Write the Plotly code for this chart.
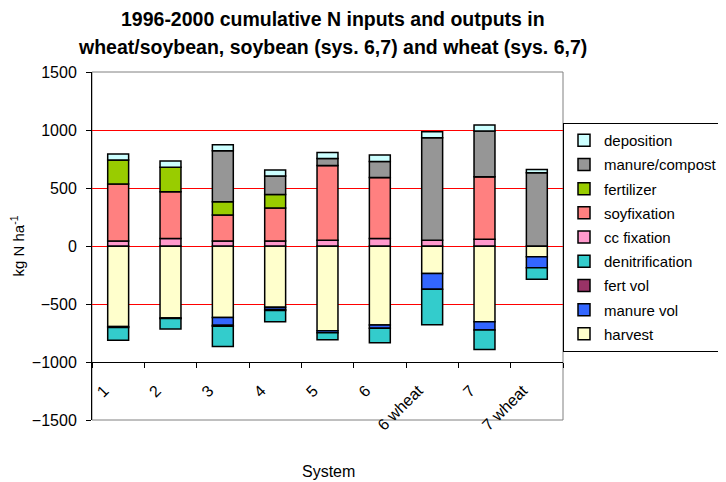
import plotly.graph_objects as go

systems = ["1", "2", "3", "4", "5", "6", "6 wheat", "7", "7 wheat"]

# outputs (negative), stacked downward from zero in this order
harvest = [-695, -620, -617, -528, -730, -681, -236, -652, -92]
manure_vol = [0, 0, -67, -20, -17, -29, -136, -72, -95]
fert_vol = [-8, -6, -8, -8, 0, 0, 0, 0, 0]
denitrification = [-109, -89, -174, -96, -61, -124, -306, -168, -99]

# inputs (positive), stacked upward from zero in this order
cc_fixation = [43, 64, 43, 43, 49, 64, 49, 58, 0]
soyfixation = [491, 404, 224, 285, 646, 527, 0, 539, 0]
fertilizer = [207, 210, 115, 117, 0, 0, 0, 0, 0]
manure_compost = [0, 0, 440, 158, 60, 138, 885, 394, 632]
deposition = [52, 55, 51, 52, 52, 55, 51, 52, 28]

y_ticks = [-1500, -1000, -500, 0, 500, 1000, 1500]

series = [
    ("harvest", harvest, "#FFFFCC"),
    ("manure vol", manure_vol, "#3366FF"),
    ("fert vol", fert_vol, "#993366"),
    ("denitrification", denitrification, "#33CCCC"),
    ("cc fixation", cc_fixation, "#FF99CC"),
    ("soyfixation", soyfixation, "#FF8080"),
    ("fertilizer", fertilizer, "#99CC00"),
    ("manure/compost", manure_compost, "#969696"),
    ("deposition", deposition, "#CCFFFF"),
]

fig = go.Figure()
n = len(series)
for i, (name, vals, col) in enumerate(series):
    fig.add_trace(go.Bar(
        x=systems, y=vals, name=name, legendgroup=name,
        legendrank=n - i,
        marker=dict(color=col, line=dict(color="black", width=1.5)),
    ))

font = "Liberation Sans, Arial, sans-serif"
# the page body adds an 8px offset; work in screen coordinates and subtract it
OFF = 8
FW, FH = 726 - OFF, 482 - OFF
L, R, T, B = 92 - OFF, 563 - OFF, 72 - OFF, 420 - OFF
W, H = R - L, B - T


def px(xs):
    return (xs - OFF - L) / W


def py(ys):
    return (B - (ys - OFF)) / H


fig.update_layout(
    width=FW, height=FH,
    margin=dict(l=L, r=FW - R, t=T, b=FH - B, autoexpand=False),
    barmode="relative", bargap=0.6,
    plot_bgcolor="white", paper_bgcolor="white",
    font=dict(family=font, size=16, color="black"),
    legend=dict(traceorder="grouped", tracegroupgap=1.7,
                x=px(723), xanchor="right",
                y=py(123), yanchor="top",
                bordercolor="black", borderwidth=1,
                font=dict(size=15, family=font)),
    xaxis=dict(
        anchor="free", position=1 / 6, automargin=False,
        showline=True, linecolor="black", linewidth=1,
        ticks="outside", ticklen=5, tickcolor="black",
        tickson="boundaries", tickangle=-45,
        ticklabelshift=-14, ticklabelstandoff=12,
        showgrid=False,
        tickfont=dict(size=16, family=font),
    ),
    yaxis=dict(
        range=[-1500, 1500], tickvals=y_ticks, automargin=False,
        showline=True, linecolor="black", linewidth=1,
        ticks="outside", ticklen=5, tickcolor="black",
        ticklabelstandoff=6,
        showgrid=True, gridcolor="#FF0000", gridwidth=1,
        zeroline=False,
        tickfont=dict(size=16, family=font),
        title=dict(text="kg N ha<sup>-1</sup>", font=dict(size=15, family=font), standoff=8),
    ),
    annotations=[
        dict(text="<b>1996-2000 cumulative N inputs and outputs in</b>",
             xref="paper", yref="paper", x=px(333), y=py(19.5),
             xanchor="center", yanchor="middle", showarrow=False,
             font=dict(size=19.5, family=font)),
        dict(text="<b>wheat/soybean, soybean (sys. 6,7) and wheat (sys. 6,7)</b>",
             xref="paper", yref="paper", x=px(332), y=py(46.5),
             xanchor="center", yanchor="middle", showarrow=False,
             font=dict(size=19.5, family=font)),
        dict(text="System", xref="paper", yref="paper",
             x=px(328), y=py(471),
             xanchor="center", yanchor="middle", showarrow=False,
             font=dict(size=16, family=font)),
    ],
    shapes=[
        dict(type="rect", xref="paper", yref="paper", x0=0, x1=1, y0=0, y1=1,
             line=dict(color="#808080", width=1), layer="below"),
    ],
)

fig.write_html("out.html")
